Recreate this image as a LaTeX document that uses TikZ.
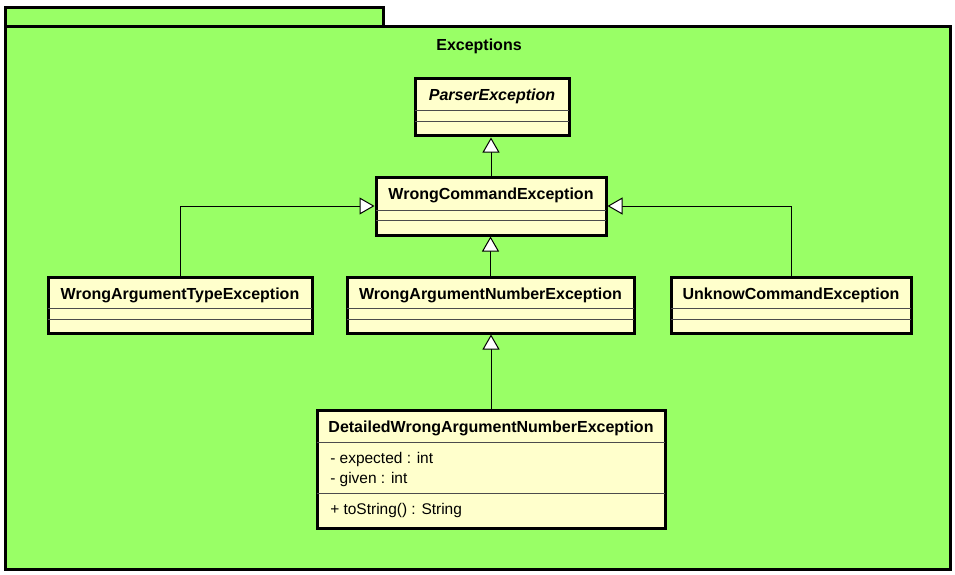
\documentclass[tikz,border=0pt]{standalone}
\usepackage{fontspec}
\setmainfont{Liberation Sans}
\usetikzlibrary{arrows.meta,fit}
\definecolor{pkggreen}{RGB}{153,255,102}
\definecolor{classyellow}{RGB}{255,255,204}
\begin{document}
\begin{tikzpicture}[x=0.75pt,y=-0.75pt,
  pkgbox/.style={draw=black,line width=2.25pt,fill=pkggreen},
  classbox/.style={draw=black,line width=2.25pt,fill=classyellow,inner sep=0pt,fit={#1}},
  compart/.style={draw=black!70,line width=0.75pt},
  ctitle/.style={font=\fontsize{12}{14}\selectfont\bfseries,inner sep=0pt},
  member/.style={font=\fontsize{11.6}{14}\selectfont,inner sep=0pt,anchor=west},
  inherit/.style={line width=0.75pt,-{Triangle[open,fill=white,length=11.25pt,width=12.75pt]}}]
\useasboundingbox (0,0) rectangle (955,574);

% package frame with its tab
\draw[pkgbox] (5.5,7.5) rectangle (383,27);
\draw[pkgbox] (5.5,27) rectangle (950,569);
\node[ctitle] (pkgname) at (479,46.5) {Exceptions};

% ParserException
\node[classbox={(415,79)(569,136)}] (pe) {};
\draw[compart] (415,110.5) -- (569,110.5);
\draw[compart] (415,121.5) -- (569,121.5);
\node[ctitle] (pet) at (492,96.5) {\itshape ParserException};

% WrongCommandException
\node[classbox={(376,177)(606,235)}] (wce) {};
\draw[compart] (376,210) -- (606,210);
\draw[compart] (376,220) -- (606,220);
\node[ctitle] (wcet) at (491,195.5) {WrongCommandException};

% WrongArgumentTypeException
\node[classbox={(48,277)(312,333)}] (wat) {};
\draw[compart] (48,308) -- (312,308);
\draw[compart] (48,319) -- (312,319);
\node[ctitle] (watt) at (180,295) {WrongArgumentTypeException};

% WrongArgumentNumberException
\node[classbox={(347,277)(634,333)}] (wan) {};
\draw[compart] (347,308) -- (634,308);
\draw[compart] (347,319) -- (634,319);
\node[ctitle] (want) at (490.5,295) {WrongArgumentNumberException};

% UnknowCommandException
\node[classbox={(671,277)(911,333)}] (uce) {};
\draw[compart] (671,308) -- (911,308);
\draw[compart] (671,319) -- (911,319);
\node[ctitle] (ucet) at (791,295) {UnknowCommandException};

% DetailedWrongArgumentNumberException
\node[classbox={(317,410)(665,528)}] (dwa) {};
\draw[compart] (317,442) -- (665,442);
\draw[compart] (317,493) -- (665,493);
\node[ctitle] (dwat) at (491,428) {DetailedWrongArgumentNumberException};
\node[member] (dwa1) at (330,459) {- expected : int};
\node[member] (dwa2) at (330,479) {- given : int};
\node[member] (dwa3) at (330,510) {+ toString() : String};

% generalisations
\draw[inherit] (wce.north) -- (wce.north |- pe.south);
\draw[inherit] (wan.north) -- (wan.north |- wce.south);
\draw[inherit] (dwa.north) -- (dwa.north |- wan.south);
\draw[inherit] (wat.north) |- (wce.west);
\draw[inherit] (uce.north) |- (wce.east);
\end{tikzpicture}
\end{document}
